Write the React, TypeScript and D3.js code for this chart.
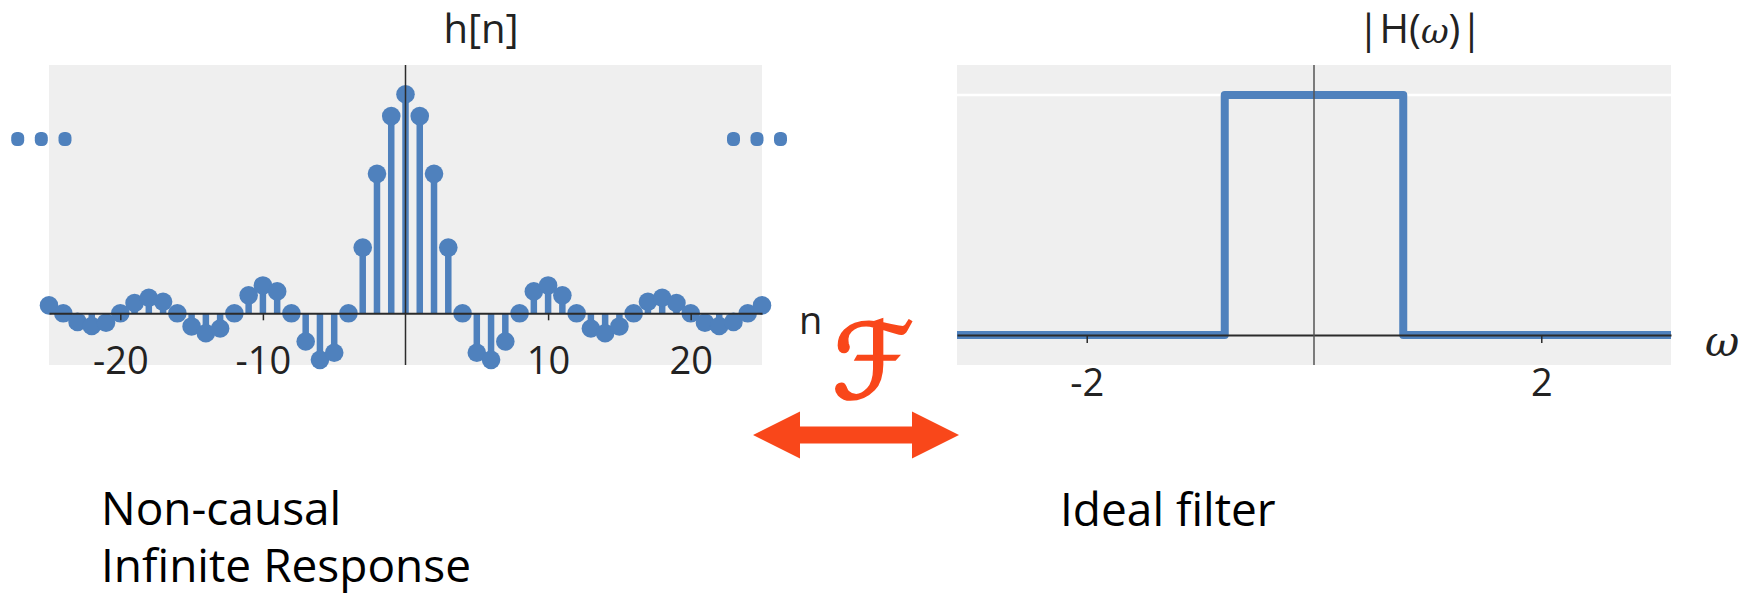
import React, { useEffect, useRef } from "react";
import * as d3 from "d3";

// sample index n and h[n]
const sampleN = [
  -25, -24, -23, -22, -21, -20, -19, -18, -17, -16, -15, -14, -13, -12, -11, -10, -9, -8, -7, -6, -5, -4, -3, -2, -1,
  0,
  1, 2, 3, 4, 5, 6, 7, 8, 9, 10, 11, 12, 13, 14, 15, 16, 17, 18, 19, 20, 21, 22, 23, 24, 25,
];
const sampleH = [
  0.009, 0, -0.0098, -0.0145, -0.0107, 0, 0.0118, 0.0177, 0.0132, 0, -0.015, -0.0227, -0.0173, 0, 0.0205, 0.0318, 0.025, 0, -0.0322, -0.0531, -0.045, 0, 0.075, 0.1592, 0.2251,
  0.25,
  0.2251, 0.1592, 0.075, 0, -0.045, -0.0531, -0.0322, 0, 0.025, 0.0318, 0.0205, 0, -0.0173, -0.0227, -0.015, 0, 0.0132, 0.0177, 0.0118, 0, -0.0107, -0.0145, -0.0098, 0, 0.009,
];
const nTicks = [-20, -10, 10, 20];

// |H(w)| of the ideal low-pass filter
const omegaPoints = [-3.1416, -0.7854, -0.7854, 0.7854, 0.7854, 3.1416];
const magnitude = [0, 0, 1, 1, 0, 0];
const omegaTicks = [-2, 2];
const gridLevels = [1];

const blue = "#4f81bd";
const panelFill = "#efefef";
const axisColor = "#2b2b2b";
const accent = "#f9471a";
const font = "'Open Sans', sans-serif";

export default function App() {
  const ref = useRef<SVGSVGElement>(null);

  useEffect(() => {
    document.body.style.margin = "0";
    const svg = d3.select(ref.current);
    svg.selectAll("*").remove();
    drawStem(svg);
    drawFilter(svg);
    drawNotes(svg);
  }, []);

  return <svg ref={ref} width={1746} height={600} style={{ display: "block" }} />;
}

function styleAxis(g: any, size: number) {
  g.select(".domain").attr("stroke", axisColor).attr("stroke-width", 2);
  g.selectAll(".tick line").attr("stroke", axisColor).attr("stroke-width", 1.5);
  g.selectAll(".tick text")
    .attr("fill", "#222")
    .style("font-family", font)
    .style("font-size", size + "px");
}

function drawStem(svg: any) {
  const x = d3.scaleLinear().domain([-25, 25]).range([49, 762]);
  const y = d3.scaleLinear().domain([-0.059, 0.2834]).range([365, 65]);
  const g = svg.append("g");

  g.append("rect")
    .attr("x", x(-25)).attr("y", y(0.2834))
    .attr("width", x(25) - x(-25)).attr("height", y(-0.059) - y(0.2834))
    .attr("fill", panelFill);

  const pts = sampleN.map((n, i) => ({ n, h: sampleH[i] }));

  g.selectAll("line.stem").data(pts).enter().append("line")
    .attr("class", "stem")
    .attr("x1", d => x(d.n)).attr("x2", d => x(d.n))
    .attr("y1", y(0)).attr("y2", d => y(d.h))
    .attr("stroke", blue).attr("stroke-width", 6.5);

  g.selectAll("circle.mark").data(pts).enter().append("circle")
    .attr("class", "mark")
    .attr("cx", d => x(d.n)).attr("cy", d => y(d.h))
    .attr("r", 9.3).attr("fill", blue);

  const ax = g.append("g")
    .attr("transform", `translate(0,${y(0)})`)
    .call(d3.axisBottom(x).tickValues(nTicks).tickSize(7).tickSizeOuter(0).tickPadding(27).tickFormat(d => String(d)));
  styleAxis(ax, 38);

  g.append("line")
    .attr("x1", x(0)).attr("x2", x(0))
    .attr("y1", y(0.2834)).attr("y2", y(-0.059))
    .attr("stroke", axisColor).attr("stroke-width", 1.5);

  // continuation dots
  const dotY = 139;
  const leftDots = [-31.3, -7.7, 16];
  const rightDots = [-28.5, -5, 18.5];
  leftDots.forEach(o => g.append("rect").attr("x", x(-25) + o - 6.5).attr("y", dotY - 7).attr("width", 13).attr("height", 14).attr("rx", 5.5).attr("fill", blue));
  rightDots.forEach(o => g.append("rect").attr("x", x(25) + o - 6.5).attr("y", dotY - 7).attr("width", 13).attr("height", 14).attr("rx", 5.5).attr("fill", blue));

  g.append("text")
    .attr("x", 481).attr("y", 43)
    .attr("text-anchor", "middle")
    .style("font-family", font).style("font-size", "40px").attr("fill", "#222")
    .text("h[n]");

  g.append("text")
    .attr("x", 799).attr("y", 334)
    .style("font-family", font).style("font-size", "38px").attr("fill", "#222")
    .text("n");
}

function drawFilter(svg: any) {
  const x = d3.scaleLinear().domain([-3.1416, 3.1416]).range([957, 1671]);
  const y = d3.scaleLinear().domain([-0.125, 1.125]).range([365, 65]);
  const g = svg.append("g");

  g.append("rect")
    .attr("x", x(-3.1416)).attr("y", y(1.125))
    .attr("width", x(3.1416) - x(-3.1416)).attr("height", y(-0.125) - y(1.125))
    .attr("fill", panelFill);

  g.selectAll("line.grid").data(gridLevels).enter().append("line")
    .attr("class", "grid")
    .attr("x1", x(-3.1416)).attr("x2", x(3.1416))
    .attr("y1", d => y(d)).attr("y2", d => y(d))
    .attr("stroke", "#fff").attr("stroke-width", 2.5);

  const line = d3.line<number>()
    .x((d, i) => x(omegaPoints[i]))
    .y(d => y(d));

  g.append("path")
    .attr("d", line(magnitude))
    .attr("fill", "none")
    .attr("stroke", blue).attr("stroke-width", 8)
    .attr("stroke-linejoin", "round");

  const ax = g.append("g")
    .attr("transform", `translate(0,${y(0)})`)
    .call(d3.axisBottom(x).tickValues(omegaTicks).tickSize(8).tickSizeOuter(0).tickPadding(26).tickFormat(d => String(d)));
  styleAxis(ax, 38);

  g.append("line")
    .attr("x1", x(0)).attr("x2", x(0))
    .attr("y1", y(1.125)).attr("y2", y(-0.125))
    .attr("stroke", "#555").attr("stroke-width", 1.5);

  const title = g.append("text")
    .attr("x", 1420).attr("y", 43)
    .attr("text-anchor", "middle")
    .style("font-family", font).style("font-size", "40px").attr("fill", "#222");
  title.append("tspan").text("|H(");
  title.append("tspan").style("font-family", "'DejaVu Serif', serif").style("font-style", "italic").style("font-size", "34px").text("ω");
  title.append("tspan").text(")|");

  g.append("text")
    .attr("x", 1705).attr("y", 356)
    .style("font-family", "'DejaVu Serif', serif").style("font-style", "italic")
    .style("font-size", "42px").attr("fill", "#222")
    .text("ω");
}

function drawNotes(svg: any) {
  const g = svg.append("g");

  g.append("text")
    .attr("x", 873).attr("y", 398)
    .attr("text-anchor", "middle")
    .style("font-family", "'DejaVu Sans', sans-serif").style("font-style", "italic")
    .style("font-size", "104px").attr("fill", accent)
    .attr("stroke", accent).attr("stroke-width", 2.5)
    .text("ℱ");

  // double-headed arrow
  const ax0 = 753, ax1 = 959, ay = 435, head = 47, headHalf = 23.5, shaftHalf = 8.5;
  const p = d3.path();
  p.moveTo(ax0, ay);
  p.lineTo(ax0 + head, ay - headHalf);
  p.lineTo(ax0 + head, ay - shaftHalf);
  p.lineTo(ax1 - head, ay - shaftHalf);
  p.lineTo(ax1 - head, ay - headHalf);
  p.lineTo(ax1, ay);
  p.lineTo(ax1 - head, ay + headHalf);
  p.lineTo(ax1 - head, ay + shaftHalf);
  p.lineTo(ax0 + head, ay + shaftHalf);
  p.lineTo(ax0 + head, ay + headHalf);
  p.closePath();
  g.append("path").attr("d", p.toString()).attr("fill", accent);

  const notes = [
    { text: "Non-causal", x: 101, y: 525 },
    { text: "Infinite Response", x: 101, y: 582 },
    { text: "Ideal filter", x: 1060, y: 526 },
  ];
  g.selectAll("text.note").data(notes).enter().append("text")
    .attr("class", "note")
    .attr("x", d => d.x).attr("y", d => d.y)
    .style("font-family", font).style("font-size", "46px").attr("fill", "#000")
    .text(d => d.text);
}
